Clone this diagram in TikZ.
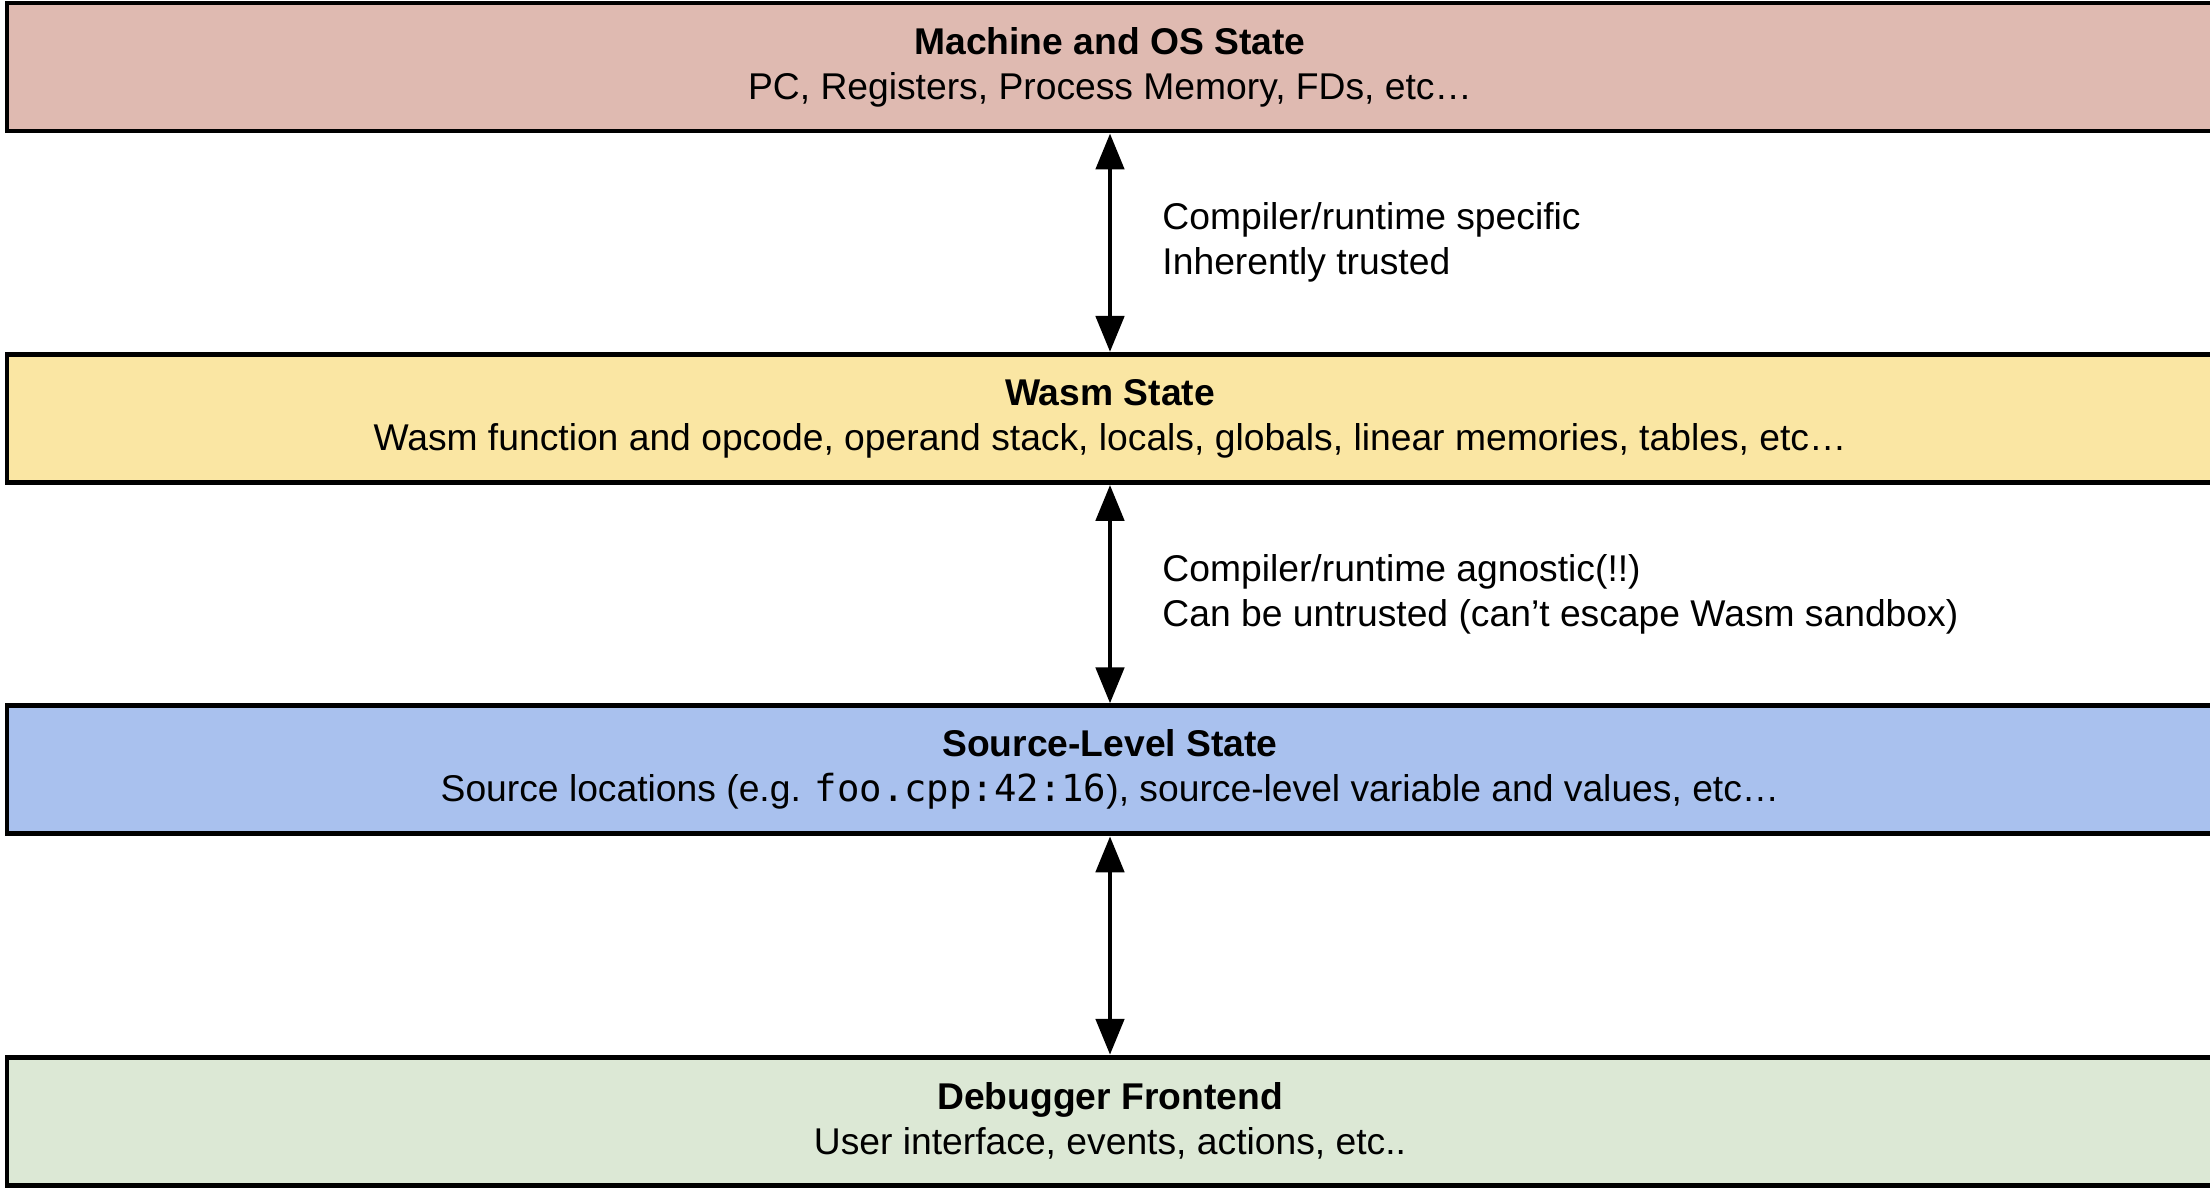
\documentclass[tikz,border=0pt]{standalone}
\usepackage{fontspec}
\setmainfont{Liberation Sans}
\setmonofont{DejaVu Sans Mono}
\usetikzlibrary{arrows.meta,positioning}

\definecolor{machinefill}{HTML}{DFBAB1}
\definecolor{wasmfill}{HTML}{FAE6A3}
\definecolor{sourcefill}{HTML}{A9C1EE}
\definecolor{frontfill}{HTML}{DCE8D5}

\begin{document}
\begin{tikzpicture}[
  node distance=2.185cm,
  font=\fontsize{10.6}{12.8}\selectfont,
  layer/.style={
    draw=black, line width=1.4pt, align=center,
    minimum width=22.06cm, minimum height=1.28cm, inner sep=0pt},
  note/.style={align=left, inner sep=0pt, anchor=west, xshift=0.5cm},
  arr/.style={{Triangle[length=3.6mm,width=2.8mm]}-{Triangle[length=3.6mm,width=2.8mm]},
    line width=1.4pt}
]
\useasboundingbox (0,0) rectangle (22.10,-11.95);

\node[layer, fill=machinefill] (machine) at (11.10,-0.67)
  {\textbf{Machine and OS State}\\
   PC, Registers, Process Memory, FDs, etc…};

\node[layer, fill=wasmfill, below=of machine] (wasm)
  {\textbf{Wasm State}\\
   Wasm function and opcode, operand stack, locals, globals, linear memories, tables, etc…};

\node[layer, fill=sourcefill, below=of wasm] (source)
  {\textbf{Source-Level State}\\
   Source locations (e.g. \texttt{foo.cpp:42:16}), source-level variable and values, etc…};

\node[layer, fill=frontfill, below=of source] (front)
  {\textbf{Debugger Frontend}\\
   User interface, events, actions, etc..};

\draw[arr] (machine) -- node[note] (specific)
  {Compiler/runtime specific\\ Inherently trusted} (wasm);
\draw[arr] (wasm) -- node[note] (agnostic)
  {Compiler/runtime agnostic(!!)\\ Can be untrusted (can’t escape Wasm sandbox)} (source);
\draw[arr] (source) -- (front);

\end{tikzpicture}
\end{document}
